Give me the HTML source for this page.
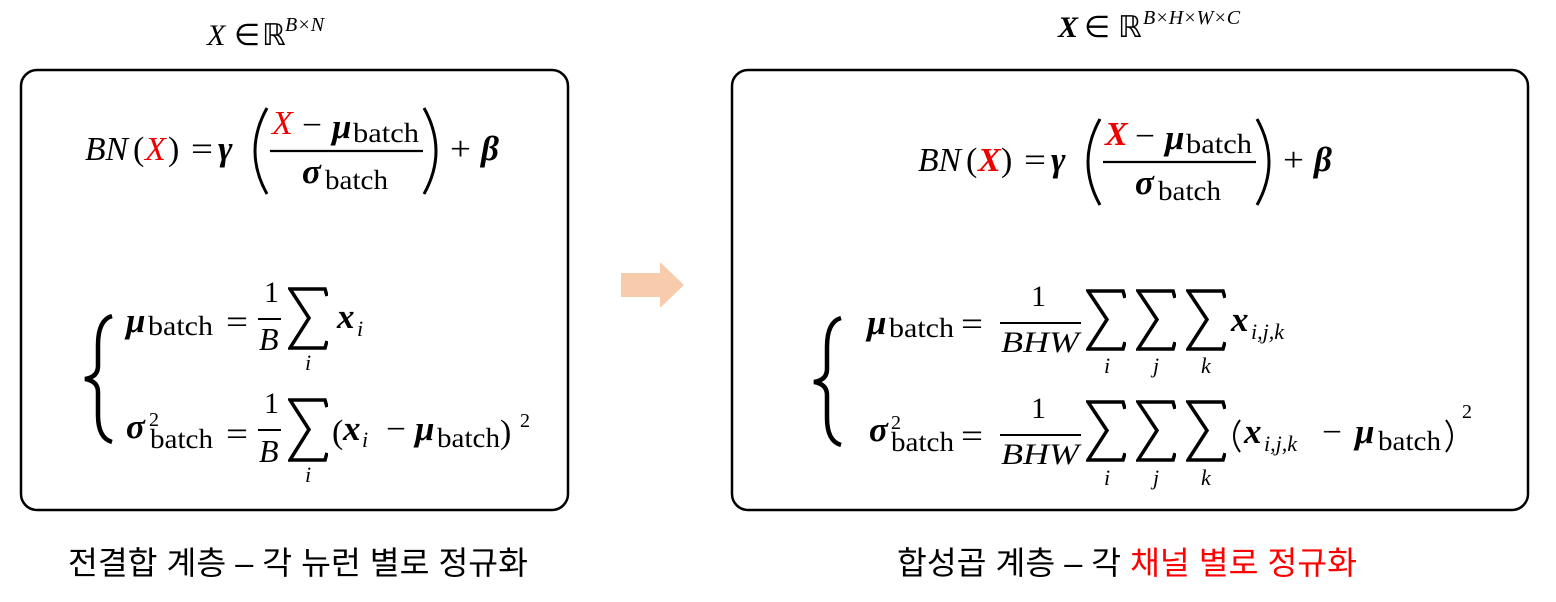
<!DOCTYPE html>
<html><head><meta charset="utf-8"><style>
html,body{margin:0;padding:0;background:#fff;}
svg{display:block}
text{font-family:"Liberation Serif",serif;fill:#000}
.i{font-style:italic}
.b{font-weight:bold}
.k{font-family:"Liberation Sans","Noto Sans CJK KR",sans-serif;font-size:32px}
</style></head><body>
<svg width="1556" height="602" viewBox="0 0 1556 602" xmlns="http://www.w3.org/2000/svg">
<defs>
<symbol id="S" viewBox="0 0 40 63" preserveAspectRatio="none">
<path d="M39,9 L37,2 L2,2 L21,31 L2,61 L37,61 L39,54" fill="none" stroke="#000" stroke-width="3.5" stroke-linejoin="miter"/>
</symbol>
<g id="top">
<text class="i" x="85" y="160" font-size="34" textLength="43" lengthAdjust="spacingAndGlyphs">BN</text>
<text x="133" y="160" font-size="34">(</text>
<text x="168" y="160" font-size="34">)</text>
<text x="191" y="160" font-size="34" textLength="22" lengthAdjust="spacingAndGlyphs">=</text>
<text class="i b" x="218" y="160" font-size="35">γ</text>
<path d="M267,108 Q243,151 267,194" fill="none" stroke="#000" stroke-width="3"/>
<path d="M424,108 Q448,151 424,194" fill="none" stroke="#000" stroke-width="3"/>
<text x="302" y="136" font-size="34" textLength="20" lengthAdjust="spacingAndGlyphs">−</text>
<text class="i b" x="332" y="138" font-size="35">μ</text>
<text x="353" y="142" font-size="27" textLength="66" lengthAdjust="spacingAndGlyphs">batch</text>
<line x1="270" y1="151" x2="423" y2="151" stroke="#000" stroke-width="2.2"/>
<text class="i b" x="302" y="183" font-size="35">σ</text>
<text x="325" y="189" font-size="27" textLength="63" lengthAdjust="spacingAndGlyphs">batch</text>
<text x="450" y="160" font-size="34" textLength="21" lengthAdjust="spacingAndGlyphs">+</text>
<text class="i b" x="481" y="160" font-size="35">β</text>
</g>
</defs>
<rect x="21" y="70" width="547" height="440" rx="16" fill="none" stroke="#000" stroke-width="2.5"/>
<rect x="732" y="70" width="796" height="440" rx="16" fill="none" stroke="#000" stroke-width="2.5"/>
<polygon points="621,273 660,273 660,262 684,285 660,308 660,297 621,297" fill="#f8cbad"/>

<!-- top labels -->
<text class="i" x="207" y="45" font-size="30">X</text>
<text x="234" y="45" font-size="30">∈</text>
<text x="262" y="45" font-size="30">ℝ</text>
<text class="i" x="285" y="31" font-size="20">B×N</text>
<text class="i b" x="1058" y="37" font-size="30">X</text>
<text x="1084" y="37" font-size="30">∈</text>
<text x="1118" y="37" font-size="30">ℝ</text>
<text class="i" x="1143" y="24" font-size="20">B×H×W×C</text>

<use href="#top"/>
<text class="i" x="145" y="160" font-size="34" style="fill:#e00">X</text>
<text class="i" x="272" y="134" font-size="34" style="fill:#e00">X</text>

<g transform="translate(833,11)">
<use href="#top"/>
<text class="i b" x="145" y="160" font-size="34" style="fill:#e00">X</text>
<text class="i b" x="272" y="134" font-size="34" style="fill:#e00">X</text>
</g>

<!-- left brace -->
<path d="M112,316 Q98,320 98,345 L98,366 Q98,377 85,379 Q98,381 98,392 L98,415 Q98,438 112,442" fill="none" stroke="#000" stroke-width="4.5"/>
<text class="i b" x="126" y="332" font-size="35">μ</text>
<text x="148" y="335" font-size="27" textLength="65" lengthAdjust="spacingAndGlyphs">batch</text>
<text x="226" y="333" font-size="34" textLength="22" lengthAdjust="spacingAndGlyphs">=</text>
<text x="264" y="302" font-size="30">1</text>
<line x1="258" y1="319" x2="281" y2="319" stroke="#000" stroke-width="2"/>
<text class="i" x="259" y="350" font-size="32">B</text>
<use href="#S" x="288" y="287" width="40" height="63"/>
<text class="i" x="305" y="370" font-size="22">i</text>
<text class="i b" x="337" y="328" font-size="35">x</text>
<text class="i" x="357" y="336" font-size="22">i</text>

<text class="i b" x="126" y="438" font-size="35">σ</text>
<text x="149" y="426" font-size="20">2</text>
<text x="150" y="448" font-size="27" textLength="63" lengthAdjust="spacingAndGlyphs">batch</text>
<text x="226" y="445" font-size="34" textLength="22" lengthAdjust="spacingAndGlyphs">=</text>
<text x="264" y="413" font-size="30">1</text>
<line x1="258" y1="430" x2="281" y2="430" stroke="#000" stroke-width="2"/>
<text class="i" x="259" y="462" font-size="32">B</text>
<use href="#S" x="288" y="398" width="40" height="64"/>
<text class="i" x="305" y="482" font-size="22">i</text>
<text x="332" y="443" font-size="34">(</text>
<text class="i b" x="343" y="440" font-size="35">x</text>
<text class="i" x="362" y="447" font-size="22">i</text>
<text x="386" y="440" font-size="34" textLength="20" lengthAdjust="spacingAndGlyphs">−</text>
<text class="i b" x="415" y="440" font-size="35">μ</text>
<text x="437" y="447" font-size="27" textLength="63" lengthAdjust="spacingAndGlyphs">batch</text>
<text x="500" y="443" font-size="34">)</text>
<text x="520" y="427" font-size="20">2</text>

<!-- right brace -->
<path d="M841,318 Q827,322 827,347 L827,369 Q827,380 814,382 Q827,384 827,395 L827,418 Q827,441 841,445" fill="none" stroke="#000" stroke-width="4.5"/>
<text class="i b" x="867" y="334" font-size="35">μ</text>
<text x="889" y="337" font-size="27" textLength="65" lengthAdjust="spacingAndGlyphs">batch</text>
<text x="961" y="335" font-size="34" textLength="22" lengthAdjust="spacingAndGlyphs">=</text>
<text x="1031" y="306" font-size="30">1</text>
<line x1="1000" y1="323" x2="1081" y2="323" stroke="#000" stroke-width="2"/>
<text class="i" x="1001" y="352" font-size="30" textLength="78" lengthAdjust="spacingAndGlyphs">BHW</text>
<use href="#S" x="1086" y="289" width="40" height="62"/>
<use href="#S" x="1136" y="289" width="40" height="62"/>
<use href="#S" x="1186" y="289" width="40" height="62"/>
<text class="i" x="1104" y="373" font-size="22">i</text>
<text class="i" x="1153" y="373" font-size="22">j</text>
<text class="i" x="1201" y="373" font-size="22">k</text>
<text class="i b" x="1231" y="331" font-size="35">x</text>
<text class="i" x="1251" y="339" font-size="22">i,j,k</text>

<text class="i b" x="869" y="441" font-size="35">σ</text>
<text x="891" y="429" font-size="20">2</text>
<text x="891" y="451" font-size="27" textLength="63" lengthAdjust="spacingAndGlyphs">batch</text>
<text x="961" y="447" font-size="34" textLength="22" lengthAdjust="spacingAndGlyphs">=</text>
<text x="1031" y="418" font-size="30">1</text>
<line x1="1000" y1="435" x2="1081" y2="435" stroke="#000" stroke-width="2"/>
<text class="i" x="1001" y="464" font-size="30" textLength="78" lengthAdjust="spacingAndGlyphs">BHW</text>
<use href="#S" x="1086" y="400" width="40" height="62"/>
<use href="#S" x="1136" y="400" width="40" height="62"/>
<use href="#S" x="1186" y="400" width="40" height="62"/>
<text class="i" x="1104" y="485" font-size="22">i</text>
<text class="i" x="1153" y="485" font-size="22">j</text>
<text class="i" x="1201" y="485" font-size="22">k</text>
<path d="M1240,420 Q1228,436 1240,452" fill="none" stroke="#000" stroke-width="2"/>
<text class="i b" x="1244" y="443" font-size="35">x</text>
<text class="i" x="1264" y="451" font-size="22">i,j,k</text>
<text x="1322" y="443" font-size="34" textLength="20" lengthAdjust="spacingAndGlyphs">−</text>
<text class="i b" x="1355" y="443" font-size="35">μ</text>
<text x="1378" y="450" font-size="27" textLength="63" lengthAdjust="spacingAndGlyphs">batch</text>
<path d="M1446,420 Q1458,436 1446,452" fill="none" stroke="#000" stroke-width="2"/>
<text x="1462" y="418" font-size="20">2</text>

<!-- captions -->
<text class="k" x="298" y="574" text-anchor="middle" textLength="460" lengthAdjust="spacingAndGlyphs">전결합 계층 – 각 뉴런 별로 정규화</text>
<text class="k" x="897" y="574" textLength="460" lengthAdjust="spacingAndGlyphs">합성곱 계층 – 각 <tspan style="fill:#ff0000">채널 별로 정규화</tspan></text>
</svg>
</body></html>
